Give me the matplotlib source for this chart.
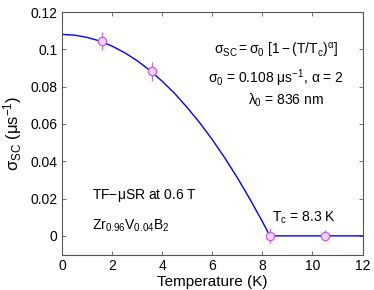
import matplotlib
matplotlib.use("Agg")
import matplotlib.pyplot as plt

plt.rcParams['font.family'] = ['Liberation Sans', 'DejaVu Sans']
plt.rcParams['mathtext.fontset'] = 'custom'
plt.rcParams['mathtext.rm'] = 'Liberation Sans'
plt.rcParams['mathtext.it'] = 'Liberation Sans'
plt.rcParams['mathtext.bf'] = 'Liberation Sans:bold'

# measured points
temp = [1.6, 3.6, 8.3, 10.5]
sigma = [0.1045, 0.0882, 0.0, 0.0]
sigma_err = [0.005, 0.005, 0.004, 0.003]

# fit curve
fit_t = [0, 0.5, 1, 1.5, 2, 2.5, 3, 3.5, 4, 4.5, 5, 5.5, 6, 6.5, 7, 7.5, 8, 8.3, 12]
fit_s = [0.108, 0.1076, 0.1064, 0.1045, 0.1017, 0.0982, 0.0939, 0.0888, 0.0829,
         0.0763, 0.0688, 0.0606, 0.0516, 0.0418, 0.0312, 0.0198, 0.0077, 0.0, 0.0]

fig = plt.figure(figsize=(3.74, 2.90), dpi=100)
ax = fig.add_axes([62/374, 1 - 254.5/290, 300.5/374, 242.5/290])

ax.plot(fit_t, fit_s, color='#0000ff', lw=1.0, zorder=2)
ax.errorbar(temp, sigma, yerr=sigma_err, fmt='o', ms=6, mfc='#f3d0fb', mec='#c060f0',
            mew=0.9, ecolor='#c870f0', elinewidth=1.0, capsize=0, zorder=3)

ax.set_xlim(0, 12)
ax.set_ylim(-0.01, 0.12)
ax.set_xticks([0, 2, 4, 6, 8, 10, 12])
ax.set_yticks([0, 0.02, 0.04, 0.06, 0.08, 0.1, 0.12])
ax.set_yticklabels(['0', '0.02', '0.04', '0.06', '0.08', '0.1', '0.12'])
ax.tick_params(direction='in', top=True, right=True, length=3, width=0.6,
               labelsize=10, colors='#555555', labelcolor='black')
for sp in ax.spines.values():
    sp.set_color('#555555')
    sp.set_linewidth(0.8)

ax.set_xlabel('Temperature (K)', fontsize=11, labelpad=1)
ax.set_ylabel(r'$\sigma_{\rm SC}$ ($\mu$s$^{-1}$)', fontsize=12, labelpad=4)

fs = 10
ax.text(0.918, 0.84, r'$\sigma_{SC} = \sigma_0\ [1 - (T/T_c)^{\alpha}]$', transform=ax.transAxes,
        ha='right', va='center', fontsize=fs)
ax.text(0.938, 0.728, r'$\sigma_0$ = 0.108 $\mu$s$^{-1}$, $\alpha$ = 2', transform=ax.transAxes,
        ha='right', va='center', fontsize=fs)
ax.text(0.872, 0.635, r'$\lambda_0$ = 836 nm', transform=ax.transAxes,
        ha='right', va='center', fontsize=fs)
ax.text(0.1, 0.245, r'TF$-\mu$SR at 0.6 T', transform=ax.transAxes,
        ha='left', va='center', fontsize=fs)
ax.text(0.1, 0.12, r'Zr$_{0.96}$V$_{0.04}$B$_2$', transform=ax.transAxes,
        ha='left', va='center', fontsize=fs)
ax.text(0.7, 0.15, r'T$_c$ = 8.3 K', transform=ax.transAxes,
        ha='left', va='center', fontsize=fs)

fig.savefig('out.png', dpi=100)
